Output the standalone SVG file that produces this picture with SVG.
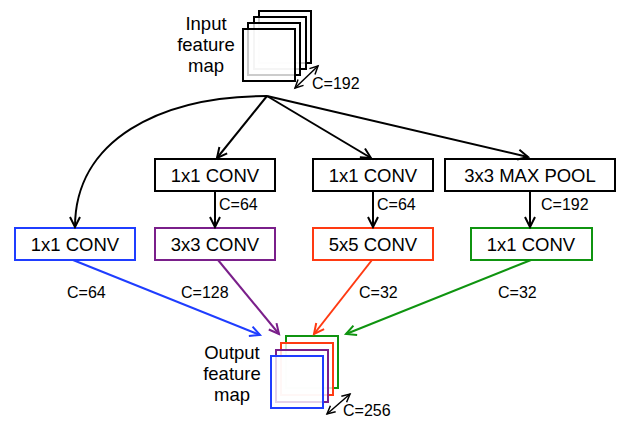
<svg xmlns="http://www.w3.org/2000/svg" width="621" height="422" viewBox="0 0 621 422">
<style>
text{font-family:"Liberation Sans",Arial,sans-serif;fill:#000}
.bt{font-size:18.5px;text-anchor:middle}
.lb{font-size:16px}
.big{font-size:18.5px;text-anchor:middle}
.box{fill:#fff;stroke-width:2}
.sq{fill:#fff;fill-opacity:0.8;stroke-width:2}
.c{fill:none;stroke-width:2}
</style>
<defs>
<marker id="ak" markerUnits="userSpaceOnUse" markerWidth="12" markerHeight="12" refX="10" refY="5" orient="auto-start-reverse" overflow="visible"><path d="M0,0 L10,5 L0,10" fill="none" stroke="#000" stroke-width="2"/></marker>
<marker id="as" markerUnits="userSpaceOnUse" markerWidth="10" markerHeight="10" refX="8" refY="4" orient="auto-start-reverse" overflow="visible"><path d="M0,0 L8,4 L0,8" fill="none" stroke="#000" stroke-width="1.5"/></marker>
<marker id="ab" markerUnits="userSpaceOnUse" markerWidth="12" markerHeight="12" refX="10" refY="5" orient="auto" overflow="visible"><path d="M0,0 L10,5 L0,10" fill="none" stroke="#1f3dff" stroke-width="2"/></marker>
<marker id="ap" markerUnits="userSpaceOnUse" markerWidth="12" markerHeight="12" refX="10" refY="5" orient="auto" overflow="visible"><path d="M0,0 L10,5 L0,10" fill="none" stroke="#7a1f8a" stroke-width="2"/></marker>
<marker id="ar" markerUnits="userSpaceOnUse" markerWidth="12" markerHeight="12" refX="10" refY="5" orient="auto" overflow="visible"><path d="M0,0 L10,5 L0,10" fill="none" stroke="#ff3a12" stroke-width="2"/></marker>
<marker id="ag" markerUnits="userSpaceOnUse" markerWidth="12" markerHeight="12" refX="10" refY="5" orient="auto" overflow="visible"><path d="M0,0 L10,5 L0,10" fill="none" stroke="#0f9410" stroke-width="2"/></marker>
</defs>

<g id="input">
<rect class="sq" x="259" y="11" width="52" height="52" stroke="#000"/>
<rect class="sq" x="254" y="17" width="52" height="52" stroke="#000"/>
<rect class="sq" x="248" y="23" width="52" height="52" stroke="#000"/>
<rect class="sq" x="243" y="29" width="52" height="52" stroke="#000"/>
<text class="big" x="206" y="30">Input</text>
<text class="big" x="206" y="51">feature</text>
<text class="big" x="206" y="72">map</text>
<line x1="295" y1="88" x2="318" y2="66" stroke="#000" stroke-width="1.5" marker-start="url(#as)" marker-end="url(#as)"/>
<text class="lb" x="312" y="89">C=192</text>
</g>

<g id="top1"><rect class="box" x="155" y="159" width="120" height="32" stroke="#000"/><text class="bt" x="215" y="182">1x1 CONV</text></g>
<g id="top2"><rect class="box" x="313" y="159" width="120" height="32" stroke="#000"/><text class="bt" x="373" y="182">1x1 CONV</text></g>
<g id="top3"><rect class="box" x="445" y="159" width="170" height="32" stroke="#000"/><text class="bt" x="530" y="182">3x3 MAX POOL</text></g>

<g id="b1"><rect class="box" x="15" y="228" width="120" height="32" stroke="#1f3dff"/><text class="bt" x="75" y="251">1x1 CONV</text></g>
<g id="b2"><rect class="box" x="155" y="228" width="120" height="32" stroke="#7a1f8a"/><text class="bt" x="215" y="251">3x3 CONV</text></g>
<g id="b3"><rect class="box" x="313" y="228" width="120" height="32" stroke="#ff3a12"/><text class="bt" x="373" y="251">5x5 CONV</text></g>
<g id="b4"><rect class="box" x="471" y="228" width="121" height="32" stroke="#0f9410"/><text class="bt" x="531" y="251">1x1 CONV</text></g>

<g id="output">
<rect class="sq" x="286" y="336" width="52" height="52" stroke="#0f9410"/>
<rect class="sq" x="281" y="343" width="52" height="52" stroke="#ff3a12"/>
<rect class="sq" x="276" y="350" width="52" height="52" stroke="#7a1f8a"/>
<rect class="sq" x="271" y="356" width="52" height="52" stroke="#1f3dff"/>
<text class="big" x="232" y="359">Output</text>
<text class="big" x="232" y="380">feature</text>
<text class="big" x="232" y="401">map</text>
<line x1="327" y1="414" x2="350" y2="394" stroke="#000" stroke-width="1.5" marker-start="url(#as)" marker-end="url(#as)"/>
<text class="lb" x="343" y="416">C=256</text>
</g>

<g id="connectors">
<path class="c" stroke="#000" d="M267,96 C160,96 75,140 75,227" marker-end="url(#ak)"/>
<line class="c" stroke="#000" x1="267" y1="96" x2="217" y2="158" marker-end="url(#ak)"/>
<line class="c" stroke="#000" x1="267" y1="96" x2="371" y2="158" marker-end="url(#ak)"/>
<line class="c" stroke="#000" x1="267" y1="96" x2="528" y2="157" marker-end="url(#ak)"/>
<line class="c" stroke="#000" x1="215" y1="191" x2="215" y2="227" marker-end="url(#ak)"/>
<line class="c" stroke="#000" x1="373" y1="191" x2="373" y2="227" marker-end="url(#ak)"/>
<line class="c" stroke="#000" x1="530" y1="191" x2="530" y2="227" marker-end="url(#ak)"/>
<text class="lb" x="219" y="210">C=64</text>
<text class="lb" x="377" y="210">C=64</text>
<text class="lb" x="541" y="210">C=192</text>
<line class="c" stroke="#1f3dff" x1="73" y1="260" x2="260" y2="335" marker-end="url(#ab)"/>
<line class="c" stroke="#7a1f8a" x1="218" y1="260" x2="279" y2="334" marker-end="url(#ap)"/>
<line class="c" stroke="#ff3a12" x1="372" y1="260" x2="314" y2="334" marker-end="url(#ar)"/>
<line class="c" stroke="#0f9410" x1="531" y1="260" x2="346" y2="334" marker-end="url(#ag)"/>
<text class="lb" x="67" y="298">C=64</text>
<text class="lb" x="181" y="298">C=128</text>
<text class="lb" x="359" y="298">C=32</text>
<text class="lb" x="498" y="298">C=32</text>
</g>
</svg>
